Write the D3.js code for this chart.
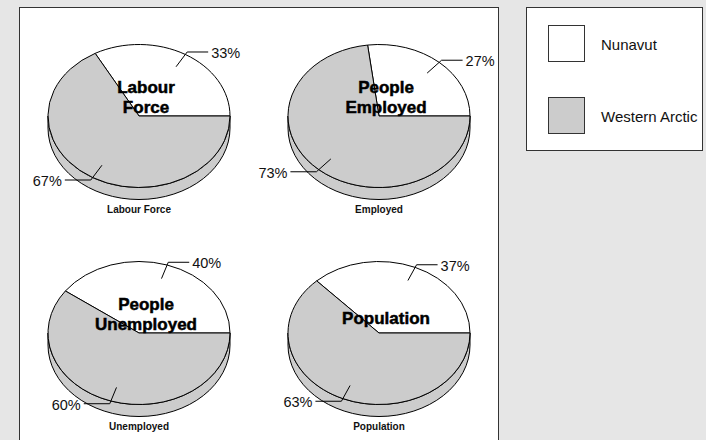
<!DOCTYPE html>
<html>
<head>
<meta charset="utf-8">
<script src="https://cdn.jsdelivr.net/npm/d3@7"></script>
<style>
  body { margin: 0; background: #e6e6e6; }
  svg { display: block; font-family: Arial, "Liberation Sans", sans-serif; }
</style>
</head>
<body>
<svg id="chart" width="706" height="440"></svg>
<script>
// Share of each measure: Nunavut vs Western Arctic (percent)
const regions = ["Nunavut", "Western Arctic"];
const captions = ["Labour Force", "Employed", "Unemployed", "Population"];
const titles = [["Labour", "Force"], ["People", "Employed"], ["People", "Unemployed"], ["Population"]];
const nunavut = [33, 27, 40, 37];
const westernArctic = [67, 73, 60, 63];

const colours = d3.scaleOrdinal().domain(regions).range(["#ffffff", "#cccccc"]);

const svg = d3.select("#chart");

// Main panel and legend panel
svg.append("rect").attr("x", 19.5).attr("y", 7.5).attr("width", 479).attr("height", 450)
  .attr("fill", "#fff").attr("stroke", "#333").attr("stroke-width", 1);

const legend = svg.append("g");
legend.append("rect").attr("x", 526.5).attr("y", 7.5).attr("width", 176).attr("height", 143)
  .attr("fill", "#fff").attr("stroke", "#333").attr("stroke-width", 1);
regions.forEach((r, i) => {
  const y = 25.5 + i * 72;
  legend.append("rect").attr("x", 548.5).attr("y", y).attr("width", 36).attr("height", 36)
    .attr("fill", colours(r)).attr("stroke", "#333").attr("stroke-width", 1);
  legend.append("text").attr("x", 601).attr("y", y + 19).attr("dominant-baseline", "central")
    .attr("font-size", 15).attr("fill", "#111").text(r);
});

// Oblique pies
const rx = 91, ry = 71.5, depth = 12;
const pie = d3.pie().sort(null).value(d => d)
  .startAngle(Math.PI / 2).endAngle(Math.PI / 2 - 2 * Math.PI);
const arc = d3.arc().innerRadius(0).outerRadius(rx);
const pt = (a, k) => [rx * k * Math.sin(a), -ry * k * Math.cos(a)];

captions.forEach((cap, i) => {
  const col = i % 2, row = Math.floor(i / 2);
  const cx = 139 + col * 240, cy = 116 + row * 217;
  const g = svg.append("g").attr("transform", `translate(${cx},${cy})`);

  // side wall of the disc
  g.append("path")
    .attr("d", `M${-rx},0 L${-rx},${depth} A${rx},${ry} 0 0 0 ${rx},${depth} L${rx},0 A${rx},${ry} 0 0 1 ${-rx},0 Z`)
    .attr("fill", colours(regions[1])).attr("stroke", "#000").attr("stroke-width", 1);

  const values = [nunavut[i], westernArctic[i]];
  const arcs = pie(values);

  // top face
  g.append("g").attr("transform", `scale(1,${ry / rx})`)
    .selectAll("path").data(arcs).join("path")
    .attr("d", arc)
    .attr("fill", (d, j) => colours(regions[j]))
    .attr("stroke", "#000").attr("stroke-width", 1)
    .attr("vector-effect", "non-scaling-stroke");

  // percentage labels with leader lines
  arcs.forEach(d => {
    const mid = (d.startAngle + d.endAngle) / 2;
    const p0 = pt(mid, 0.8), p1 = pt(mid, 1.04);
    const dir = p1[0] >= 0 ? 1 : -1;
    const len = p1[1] < 0 ? 21 : 26;
    const p2 = [p1[0] + dir * len, p1[1]];
    g.append("polyline")
      .attr("points", [p0, p1, p2].map(p => p.join(",")).join(" "))
      .attr("fill", "none").attr("stroke", "#000").attr("stroke-width", 1);
    g.append("text")
      .attr("x", p2[0] + dir * 3).attr("y", p2[1] + 1)
      .attr("text-anchor", dir > 0 ? "start" : "end")
      .attr("dominant-baseline", "central")
      .attr("font-size", 14.5).attr("fill", "#111")
      .text(d.data + "%");
  });

  // title over the disc
  const lines = titles[i];
  const centreY = lines.length === 1 ? -15 : -19;
  lines.forEach((t, j) => {
    g.append("text")
      .attr("x", 7).attr("y", centreY + (j - (lines.length - 1) / 2) * 20)
      .attr("text-anchor", "middle").attr("dominant-baseline", "central")
      .attr("font-size", 17).attr("font-weight", "bold")
      .attr("fill", "#000").attr("stroke", "#000").attr("stroke-width", 0.5)
      .text(t);
  });

  // caption under the disc
  g.append("text").attr("x", 0).attr("y", 93)
    .attr("text-anchor", "middle").attr("dominant-baseline", "central")
    .attr("font-size", 10).attr("font-weight", "bold").attr("fill", "#111")
    .text(cap);
});
</script>
</body>
</html>
